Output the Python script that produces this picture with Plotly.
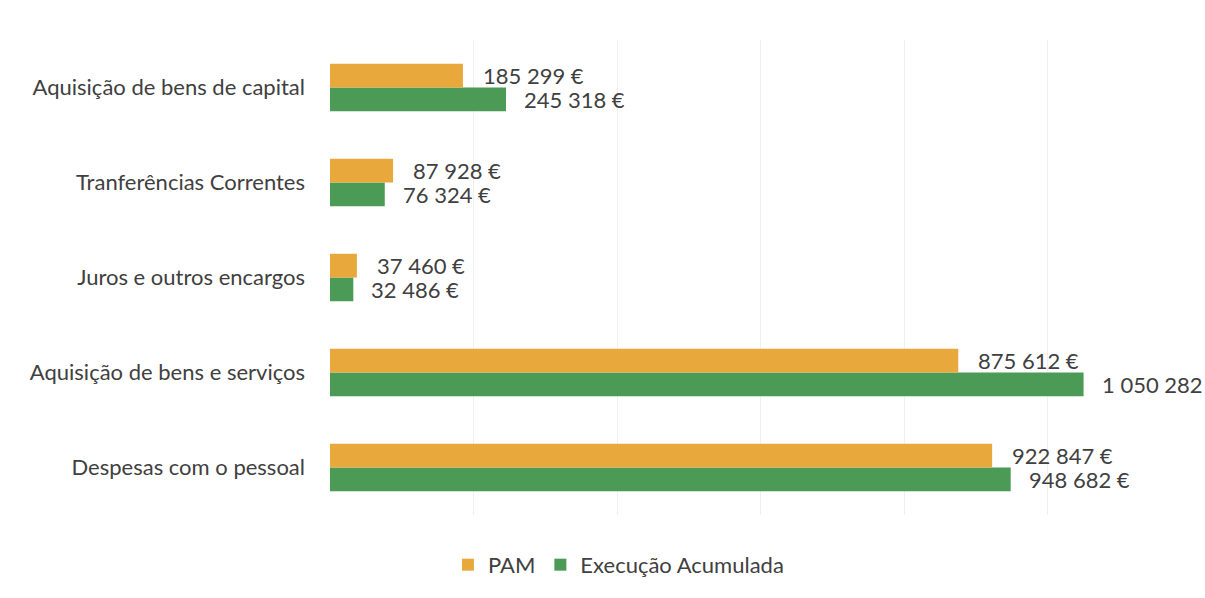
import plotly.graph_objects as go

categories = [
    "Despesas com o pessoal",
    "Aquisição de bens e serviços",
    "Juros e outros encargos",
    "Tranferências Correntes",
    "Aquisição de bens de capital",
]
pam = [922847, 875612, 37460, 87928, 185299]
execucao = [948682, 1050282, 32486, 76324, 245318]
x_ticks = [0, 200000, 400000, 600000, 800000, 1000000, 1200000]

ORANGE = "#E9A83C"
GREEN = "#4B9A55"
TXT = "#404040"
FONT = "Lato"
FS = 22


def fmt(v):
    return f"{v:,}".replace(",", " ") + " €"


fig = go.Figure()
fig.add_trace(go.Bar(
    y=categories, x=execucao, orientation="h", name="Execução Acumulada",
    marker=dict(color=GREEN, line=dict(width=0)), legendrank=2,
))
fig.add_trace(go.Bar(
    y=categories, x=pam, orientation="h", name="PAM",
    marker=dict(color=ORANGE, line=dict(width=0)), legendrank=1,
))

annotations = []
for cat, v in zip(categories, pam):
    annotations.append(dict(x=v, y=cat, xref="x", yref="y", text=fmt(v),
                            showarrow=False, xanchor="left", yanchor="middle",
                            xshift=18, yshift=12,
                            font=dict(family=FONT, size=FS, color=TXT)))
for cat, v in zip(categories, execucao):
    annotations.append(dict(x=v, y=cat, xref="x", yref="y", text=fmt(v),
                            showarrow=False, xanchor="left", yanchor="middle",
                            xshift=16, yshift=-12,
                            font=dict(family=FONT, size=FS, color=TXT)))

fig.update_layout(
    width=1205, height=598,
    margin=dict(l=330, r=14, t=40, b=78),
    paper_bgcolor="white", plot_bgcolor="white",
    barmode="group", bargap=0.5, bargroupgap=0,
    font=dict(family=FONT, size=FS, color=TXT),
    showlegend=True,
    legend=dict(orientation="h", x=0.335, xanchor="center", y=-0.105, yanchor="middle",
                font=dict(size=FS, color=TXT, family=FONT), itemwidth=30),
    annotations=annotations,
)
fig.update_xaxes(range=[0, 1200000], tickvals=x_ticks, showticklabels=False,
                 showgrid=True, gridcolor="#F0F0F0", gridwidth=1, zeroline=False,
                 showline=False, automargin=False)
fig.update_yaxes(showgrid=False, showline=False, ticks="", ticklabelstandoff=24,
                 automargin=False,
                 tickfont=dict(size=FS, color=TXT, family=FONT))

fig.write_html("out.html",
               config={"displayModeBar": False},
               post_script="document.body.style.margin='0';document.body.style.overflow='hidden';")
